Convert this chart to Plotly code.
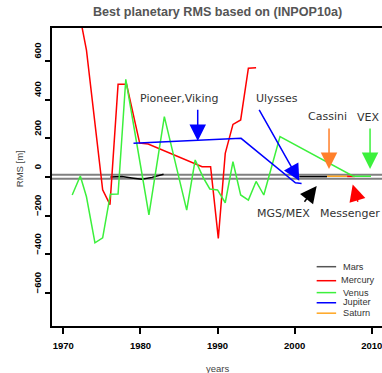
import plotly.graph_objects as go

# ---- data ----
mars_year = [1976.1, 1977.6, 1979.1, 1980.2, 1981.5, 1983.0, None, 2000.6, 2002.5, 2004.2]
mars_rms = [0, 3, -6, -12, -2, 14, None, 2, 3, 2]

mercury_year = [1972.2, 1973.0, 1975.1, 1976.05, 1977.1, 1978.2, 1979.9, 1981.0, 1988.0,
                1989.1, 1990.1, 1991.0, 1992.0, 1993.0, 1994.0, 1995.0, None, 2006.8, 2007.8]
mercury_rms = [820, 656, -66, -143, 479, 479, 175, 170, 53,
               53, -317, 122, 272, 295, 562, 565, None, 3, 3]

venus_year = [1971.15, 1972.2, 1973.0, 1974.1, 1975.1, 1976.1, 1977.1, 1978.1, 1980.0,
              1981.1, 1983.1, 1986.0, 1987.1, 1988.2, 1989.0, 1990.0, 1991.0, 1992.0,
              1993.0, 1994.0, 1995.0, 1996.0, 1998.1, 2007.6, 2009.9]
venus_rms = [-93, 5, -102, -340, -314, -89, -88, 505, 62,
             -196, 312, -171, 88, -7, -62, -67, -133, 79,
             -93, -119, -23, -93, 209, 4, 4]

jupiter_year = [1979.1, 1993.05, 2000.1, 2000.9]
jupiter_rms = [174, 200, -30, -33]

saturn_year = [2004.2, 2006.8]
saturn_rms = [4, 4]

band_levels = [12, -9]

x_ticks = [1970, 1980, 1990, 2000, 2010]
y_ticks = [-600, -400, -200, 0, 200, 400, 600]

names = ["Mars", "Mercury", "Venus", "Jupiter", "Saturn"]
colors = ["#000000", "#ff0000", "#3cf03c", "#0000ff", "#ffa520"]
legend_colors = ["#555555", "#ff0000", "#3cf03c", "#0000ff", "#ffa520"]

series = [(mars_year, mars_rms), (mercury_year, mercury_rms), (venus_year, venus_rms),
          (jupiter_year, jupiter_rms), (saturn_year, saturn_rms)]

fig = go.Figure()
for (xs, ys), nm, col in zip(series, names, colors):
    fig.add_trace(go.Scatter(x=xs, y=ys, mode="lines", name=nm,
                             line=dict(color=col, width=1.5), showlegend=False))

shapes = []
for lv in band_levels:
    shapes.append(dict(type="line", xref="paper", x0=0, x1=1, yref="y", y0=lv, y1=lv,
                       line=dict(color="#808080", width=2), layer="below"))

# manual legend
leg_line_y = [0.199, 0.152, 0.112, 0.078, 0.043]
leg_text_y = [0.199, 0.154, 0.112, 0.0805, 0.0435]
leg_text_x = [0.879, 0.873, 0.879, 0.879, 0.879]
annotations = []
for nm, col, ly, ty, tx in zip(names, legend_colors, leg_line_y, leg_text_y, leg_text_x):
    shapes.append(dict(type="line", xref="paper", yref="paper", x0=0.802, x1=0.861,
                       y0=ly, y1=ly, line=dict(color=col, width=1.5)))
    annotations.append(dict(xref="paper", yref="paper", x=tx, y=ty, text=nm, showarrow=False,
                            xanchor="left", yanchor="middle", borderpad=0,
                            font=dict(family="Liberation Sans", size=9.2, color="#333333")))

label_font = dict(family="DejaVu Sans", size=11, color="#333333")
for txt, x, y in [("Pioneer,Viking", 1985.0, 408), ("Ulysses", 1997.65, 408),
                  ("Cassini", 2004.3, 315), ("VEX", 2009.5, 310),
                  ("MGS/MEX", 1998.5, -191), ("Messenger", 2007.2, -191)]:
    annotations.append(dict(x=x, y=y, xref="x", yref="y", text=txt, showarrow=False,
                            font=label_font))

for (tx, ty, hx, hy, col) in [(1987.43, 355, 1987.43, 186, "#0000ff"),
                              (1995.29, 355, 2000.6, -20, "#0000ff"),
                              (2004.46, 258, 2004.46, 41, "#ff7f2a"),
                              (2009.78, 258, 2009.78, 41, "#3cf03c"),
                              (2001.12, -136, 2002.86, -47, "#000000"),
                              (2008.26, -136, 2007.53, -39, "#ff0000")]:
    annotations.append(dict(x=hx, y=hy, ax=tx, ay=ty, xref="x", yref="y", axref="x", ayref="y",
                            text="", showarrow=True, arrowhead=2, arrowsize=2.2,
                            arrowwidth=1.5, arrowcolor=col))

annotations.append(dict(xref="paper", yref="paper", x=0.5, y=1.054, yanchor="middle",
                        text="<b>Best planetary RMS based on (INPOP10a)</b>", showarrow=False,
                        font=dict(family="Liberation Sans", size=12.6, color="#555555")))
annotations.append(dict(xref="paper", yref="paper", x=-0.121, y=0.528, textangle=-90,
                        text="RMS [m]", showarrow=False,
                        font=dict(family="Liberation Sans", size=9.5, color="#444444")))
annotations.append(dict(xref="paper", yref="paper", x=0.5, y=-0.144, yanchor="middle",
                        text="years", showarrow=False,
                        font=dict(family="Liberation Sans", size=9.5, color="#444444")))

tickfont = dict(family="Liberation Sans", size=9.5, color="black", weight="bold")
fig.update_layout(
    width=382, height=373,
    margin=dict(l=52, r=0, t=28, b=47),
    paper_bgcolor="white", plot_bgcolor="white",
    shapes=shapes, annotations=annotations, showlegend=False,
    xaxis=dict(range=[1968.53, 2011.33], tickvals=x_ticks, ticks="outside", ticklen=6,
               tickwidth=2, tickcolor="black", showline=True, linewidth=2, linecolor="black",
               mirror=True, showgrid=False, zeroline=False, tickfont=tickfont,
               ticklabelstandoff=4, ticklabeloverflow="allow", automargin=False),
    yaxis=dict(range=[-770, 770], tickvals=y_ticks, ticks="outside", ticklen=5,
               tickwidth=2, tickcolor="black", showline=True, linewidth=2, linecolor="black",
               mirror=False, showgrid=False, zeroline=False, tickfont=tickfont,
               tickangle=-90, ticklabelshift=-9, automargin=False),
)

fig.write_html("out.html")
